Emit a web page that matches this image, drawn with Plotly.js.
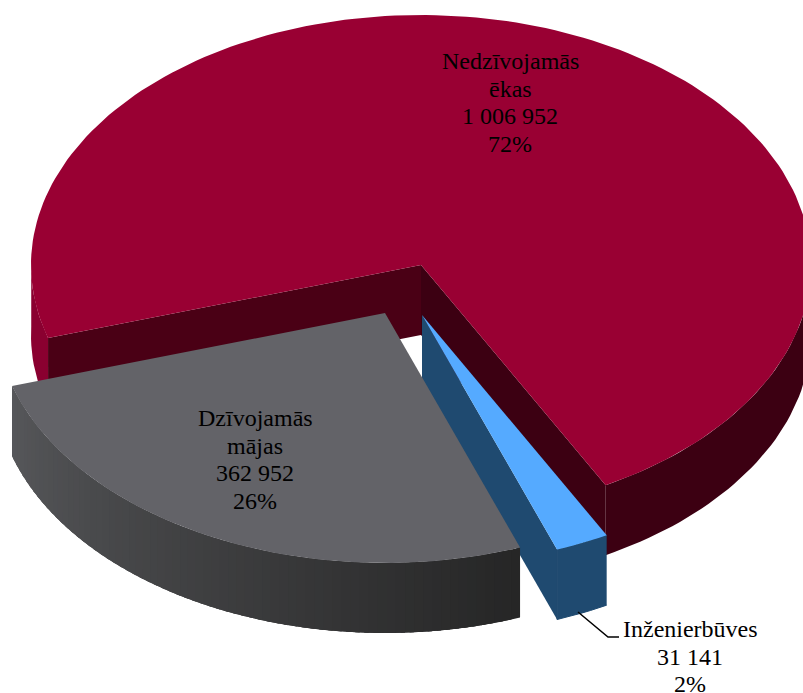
<!DOCTYPE html>
<html><head><meta charset="utf-8">
<script src="https://cdn.plot.ly/plotly-3.0.1.min.js"></script>
<style>html,body{margin:0;padding:0;background:#fff;overflow:hidden}</style>
</head><body><div id="chart" style="width:803px;height:693px"></div>
<script>
const categories = [["Nedzīvojamās", "ēkas"], ["Inženierbūves"], ["Dzīvojamās", "mājas"]];
const valueLabels = ["1 006 952", "31 141", "362 952"];
const percentLabels = ["72%", "2%", "26%"];
const values = [1006952, 31141, 362952];
const topColors = ["#990033", "#55aaff", "#636368"];
const explodeX = [0, 1, -36];
const explodeY = [0, 50, 48];
const labelX = [510, 690, 255];
const labelFirstY = [61, 629, 418];
const labelStep = 27.5;

const cx = 421, cy = 265, rx = 390, ry = 250, depth = 70, startDeg = 163;
const total = values.reduce((a, b) => a + b, 0);
const rad = d => d * Math.PI / 180;
const pt = (i, t, dz) => [cx + explodeX[i] + rx * Math.cos(rad(t)), cy + explodeY[i] + ry * Math.sin(rad(t)) + dz];
const apex = (i, dz) => [cx + explodeX[i], cy + explodeY[i] + dz];

let a = startDeg;
const spans = values.map(v => { const s = [a, a + v / total * 360]; a = s[1]; return s; });

const traces = [];
function poly(points, color, edge) {
  traces.push({
    type: "scatter", mode: "lines", x: points.map(p => p[0]), y: points.map(p => p[1]),
    fill: "toself", fillcolor: color, hoverinfo: "skip", showlegend: false,
    line: { width: edge ? 1 : 0, color: color }
  });
}
function arc(i, t0, t1, dz) {
  const n = Math.max(2, Math.ceil(Math.abs(t1 - t0) / 1.5)), out = [];
  for (let k = 0; k <= n; k++) out.push(pt(i, t0 + (t1 - t0) * k / n, dz));
  return out;
}
function wall(i, t0, t1, color, edge) {
  poly(arc(i, t0, t1, 0).concat(arc(i, t1, t0, depth)), color, edge);
}
function flat(i, p, q, color) {
  poly([p, q, [q[0], q[1] + depth], [p[0], p[1] + depth]], color, false);
}
function topFace(i) {
  poly([apex(i, 0)].concat(arc(i, spans[i][0], spans[i][1], 0)), topColors[i], false);
}
function mix(c1, c2, f) {
  return "rgb(" + c1.map((v, j) => Math.round(v + (c2[j] - v) * f)).join(",") + ")";
}

// red slice
const R = 0, B = 1, G = 2;
wall(R, spans[R][0], 182, "#8a0030", false);
wall(R, 358, spans[R][1], "#3c0012", false);
flat(R, pt(R, spans[R][0], 0), apex(R, 0), "#4a0015");
flat(R, apex(R, 0), pt(R, spans[R][1], 0), "#3c0012");
topFace(R);
// blue slice
flat(B, apex(B, 0), pt(B, spans[B][1], 0), "#1f4a70");
wall(B, spans[B][0], spans[B][1], "#1f4a70", true);
topFace(B);
// grey slice: side wall painted in overlapping steps so the shading has no seams
const steps = 70, span = spans[G][1] - spans[G][0];
for (let k = 0; k < steps; k++) {
  const f = k / (steps - 1);
  const t0 = spans[G][0] + span * k / steps;
  const t1 = Math.min(spans[G][1], t0 + 2.5 * span / steps);
  wall(G, t0, t1, mix([38, 38, 38], [86, 87, 90], f), false);
}
topFace(G);

// leader line
traces.push({ type: "scatter", mode: "lines", x: [578, 608, 619], y: [612, 637, 637],
  line: { color: "#000", width: 1.5 }, hoverinfo: "skip", showlegend: false });

const annotations = [];
categories.forEach((c, i) => {
  c.concat([valueLabels[i], percentLabels[i]]).forEach((line, j) => {
    annotations.push({
      x: labelX[i], y: labelFirstY[i] + j * labelStep, xref: "x", yref: "y", showarrow: false,
      text: line, align: "center", xanchor: "center", yanchor: "middle",
      font: { family: "Liberation Serif", size: 24, color: "#000" }
    });
  });
});

Plotly.newPlot("chart", traces, {
  width: 803, height: 693, margin: { l: 0, r: 0, t: 0, b: 0 },
  paper_bgcolor: "#fff", plot_bgcolor: "#fff", showlegend: false,
  xaxis: { range: [0, 803], visible: false, fixedrange: true },
  yaxis: { range: [693, 0], visible: false, fixedrange: true },
  annotations
}, { displayModeBar: false, staticPlot: true });
</script></body></html>
